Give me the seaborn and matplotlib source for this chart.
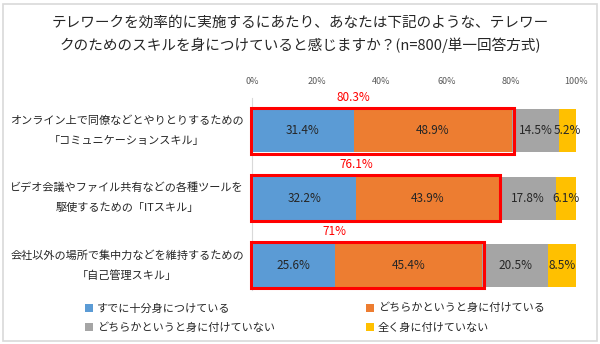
import matplotlib
matplotlib.use("Agg")
import matplotlib.pyplot as plt
from matplotlib.patches import Rectangle, Patch
import seaborn as sns
import pandas as pd
import numpy as np

sns.set_theme(style="white")
plt.rcParams['font.family'] = ['Noto Sans CJK JP', 'DejaVu Sans']

# --- data -------------------------------------------------------------
skills_line1 = ["オンライン上で同僚などとやりとりするための",
                "ビデオ会議やファイル共有などの各種ツールを",
                "会社以外の場所で集中力などを維持するための"]
skills_line2 = ["「コミュニケーションスキル」",
                "駆使するための「ITスキル」",
                "「自己管理スキル」"]
series_names = ["すでに十分身につけている", "どちらかというと身に付けている",
                "どちらかというと身に付けていない", "全く身に付けていない"]
fully = [31.4, 32.2, 25.6]
somewhat = [48.9, 43.9, 45.4]
somewhat_not = [14.5, 17.8, 20.5]
not_at_all = [5.2, 6.1, 8.5]
positive_total = ["80.3%", "76.1%", "71%"]
positive_values = [80.3, 76.1, 71.0]
tick_values = [0, 20, 40, 60, 80, 100]
tick_labels = ["0%", "20%", "40%", "60%", "80%", "100%"]

colors = ["#5B9BD5", "#ED7D31", "#A5A5A5", "#FFC000"]

df = pd.DataFrame({
    "skill": ["s0", "s1", "s2"],
    "fully": fully, "somewhat": somewhat,
    "somewhat_not": somewhat_not, "not_at_all": not_at_all,
})
parts = ["fully", "somewhat", "somewhat_not", "not_at_all"]
cum = df[parts].cumsum(axis=1)

W, H = 600, 344
fig = plt.figure(figsize=(W / 100, H / 100), dpi=100)
fig.patch.set_facecolor("white")
ax = fig.add_axes([252 / W, 1 - 290 / H, 324 / W, 192 / H])

bar_h = 0.64
# stacked bars: draw cumulative totals from the outermost segment inward
for i in range(3, -1, -1):
    sns.barplot(x=cum[parts[i]], y=df["skill"], orient="h", color=colors[i],
                width=bar_h, ax=ax, saturation=1, linewidth=0)

ax.set_xlim(0, 100)
ax.set_ylim(2.37, -0.49)
ax.set_xlabel("")
ax.set_ylabel("")
ax.set_yticks([])
ax.xaxis.tick_top()
ax.set_xticks(tick_values)
ax.set_xticklabels(tick_labels, fontsize=6.5, color="#595959")
ax.tick_params(axis="x", length=0, pad=9)
for s in ["top", "right", "bottom"]:
    ax.spines[s].set_visible(False)
ax.spines["left"].set_color("#D9D9D9")
ax.spines["left"].set_linewidth(0.8)

# segment value labels
for r in range(3):
    left = 0
    for i, p in enumerate(parts):
        v = df[p][r]
        ax.text(left + v / 2, r, f"{v}%", ha="center", va="center",
                fontsize=8.5, color="#262626")
        left += v

# red boxes around the positive share and their totals
box_h = 0.69
for r in range(3):
    ax.add_patch(Rectangle((-0.3, r - box_h / 2), positive_values[r] + 0.8, box_h,
                           fill=False, edgecolor="#FF0000", linewidth=2.2,
                           clip_on=False, zorder=5))
    ax.text(fully[r], r - 0.5, positive_total[r], ha="center", va="center",
            fontsize=8.5, color="#FF0000", clip_on=False)

# category labels (two lines each)
for r in range(3):
    ax.text(-0.386, r - 0.15, skills_line1[r], transform=ax.get_yaxis_transform(),
            ha="center", va="center", fontsize=8, color="#262626")
    ax.text(-0.386, r + 0.15, skills_line2[r], transform=ax.get_yaxis_transform(),
            ha="center", va="center", fontsize=8, color="#262626")

# title
fig.text(0.5, 1 - 23 / H,
         "テレワークを効率的に実施するにあたり、あなたは下記のような、テレワー",
         ha="center", va="center", fontsize=10.5, color="#262626")
fig.text(0.5, 1 - 45 / H,
         "クのためのスキルを身につけていると感じますか？(n=800/単一回答方式)",
         ha="center", va="center", fontsize=10.5, color="#262626")

# legend: column-major order so rows read blue/orange, gray/yellow
order = [0, 2, 1, 3]
handles = [Patch(facecolor=colors[i], edgecolor="none") for i in order]
labels = [series_names[i] for i in order]
fig.legend(handles, labels, ncol=2, loc="upper left",
           bbox_to_anchor=(85 / W, 1 - 303 / H), frameon=False,
           fontsize=8, handlelength=0.7, handleheight=0.7, handletextpad=0.4,
           columnspacing=8.15, labelspacing=0.8, borderpad=0, borderaxespad=0,
           labelcolor="#262626")

# outer frame
fig.add_artist(Rectangle((3 / W, 3 / H), 594 / W, 337 / H, transform=fig.transFigure,
                         fill=False, edgecolor="#D9D9D9", linewidth=1.2))

fig.savefig("out.png", dpi=100)
